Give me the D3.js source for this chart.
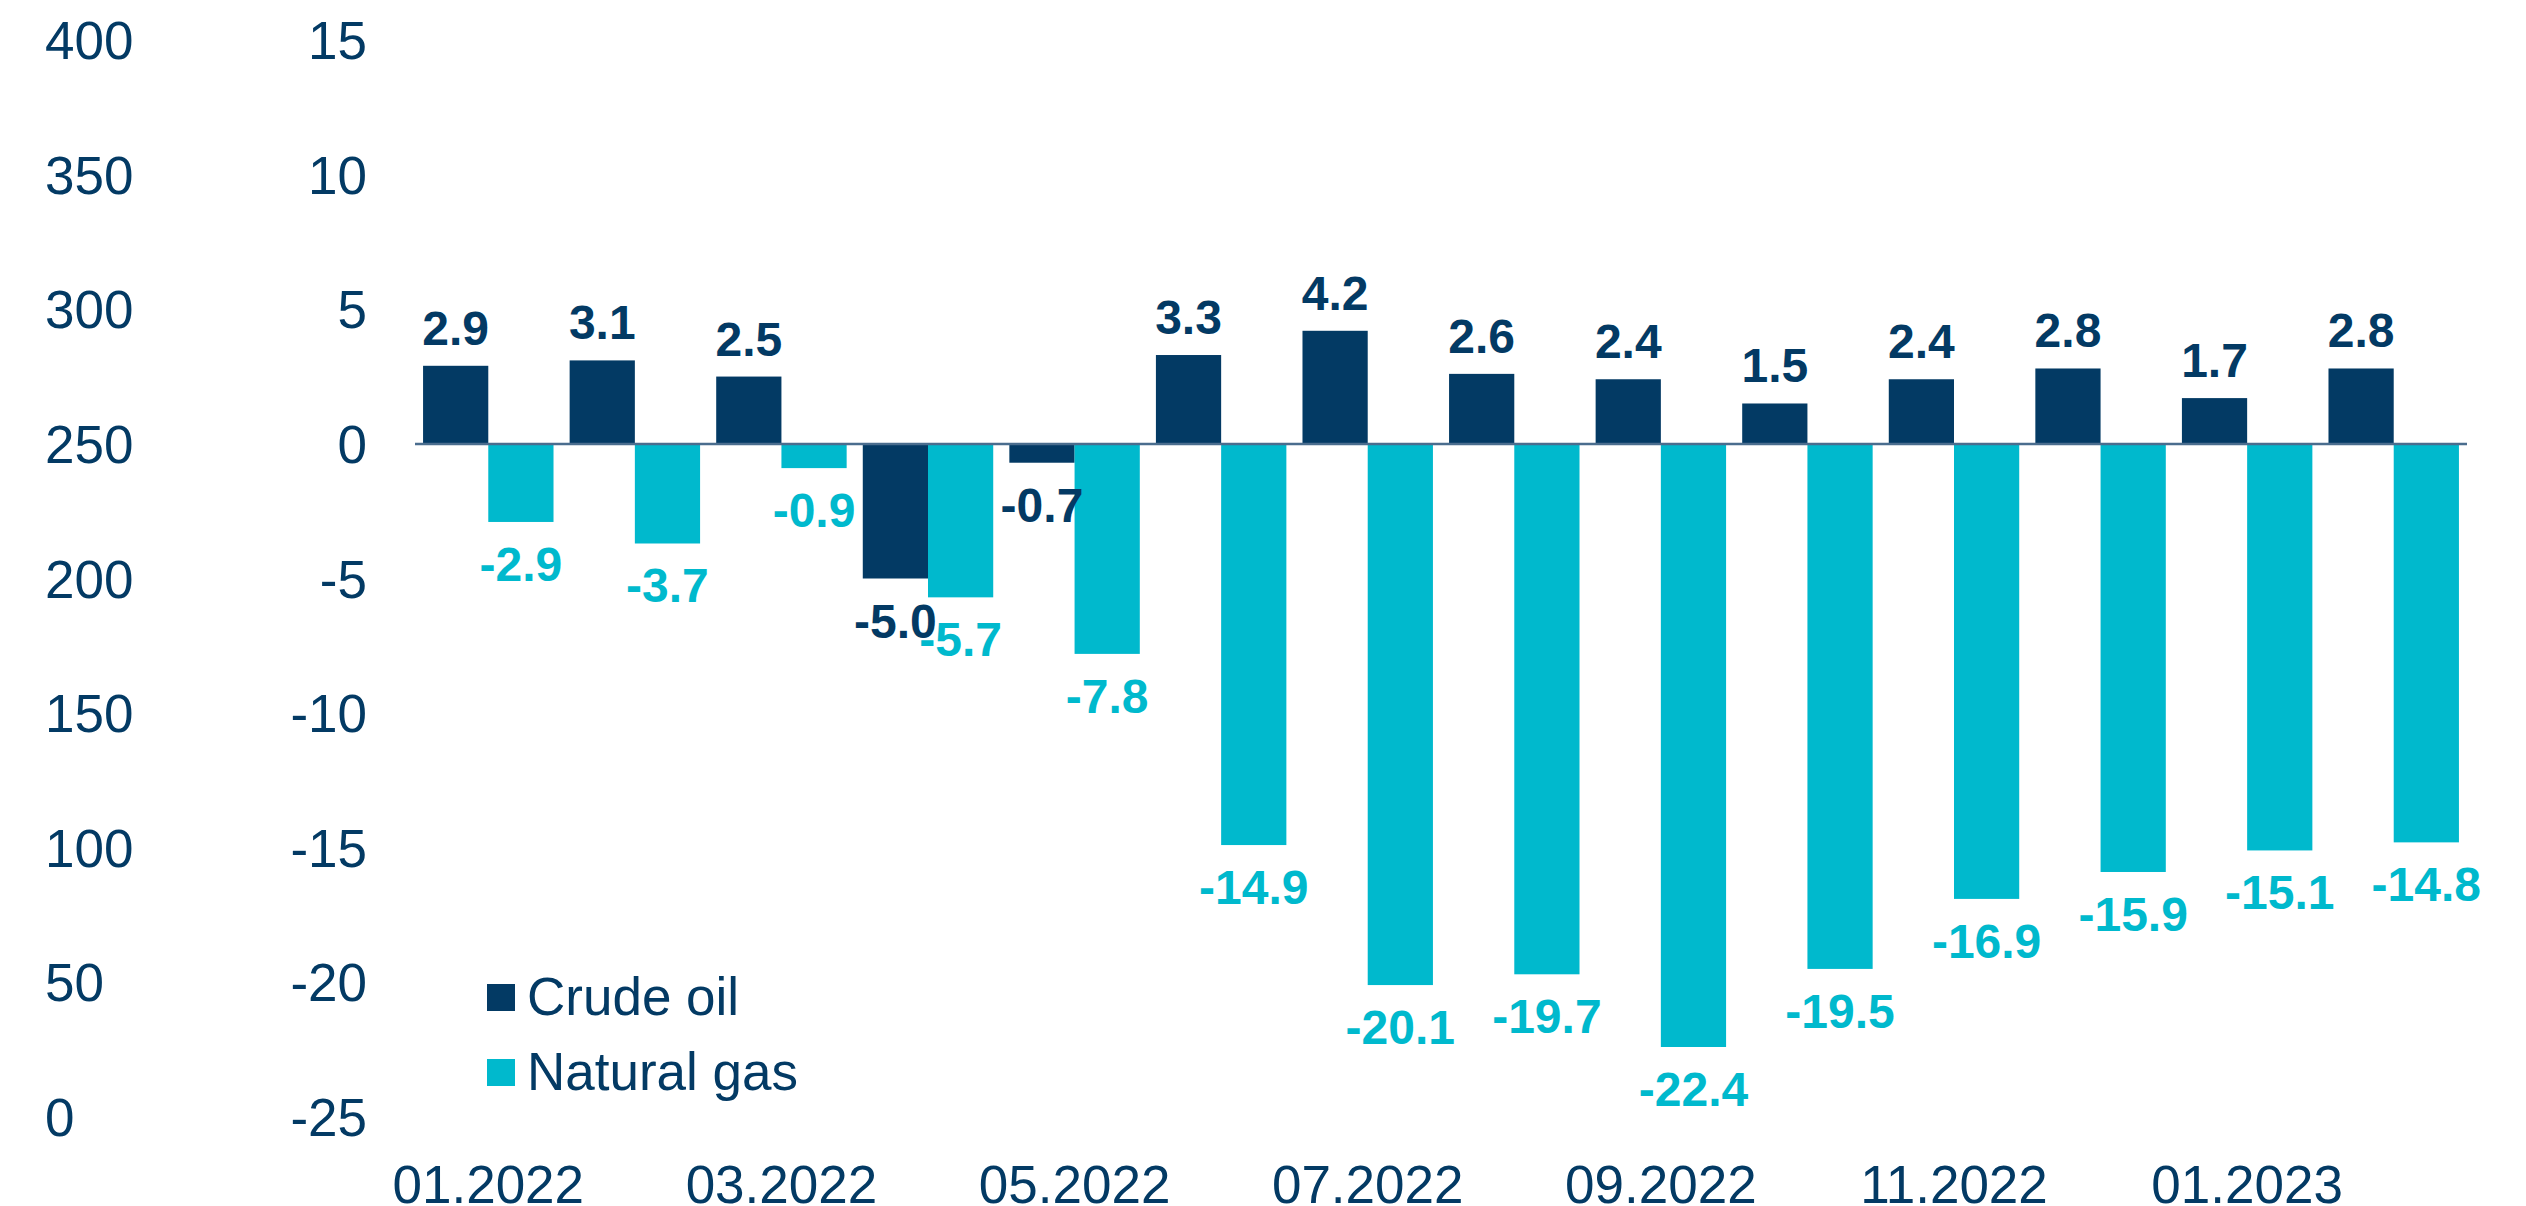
<!DOCTYPE html>
<html>
<head>
<meta charset="utf-8">
<script src="https://cdn.jsdelivr.net/npm/d3@7"></script>
<style>
  html, body { margin: 0; padding: 0; background: #ffffff; }
  svg { display: block; }
  text { font-family: "Liberation Sans", Arial, sans-serif; }
</style>
</head>
<body>
<svg id="chart" width="2526" height="1206"></svg>
<script>
// ---- data ----
const categories = ["01.2022","02.2022","03.2022","04.2022","05.2022","06.2022","07.2022",
                    "08.2022","09.2022","10.2022","11.2022","12.2022","01.2023","02.2023"];
const crudeOil   = [2.9, 3.1, 2.5, -5.0, -0.7, 3.3, 4.2, 2.6, 2.4, 1.5, 2.4, 2.8, 1.7, 2.8];
const naturalGas = [-2.9, -3.7, -0.9, -5.7, -7.8, -14.9, -20.1, -19.7, -22.4, -19.5, -16.9, -15.9, -15.1, -14.8];
const seriesNames = ["Crude oil", "Natural gas"];
const rightTicks = [15, 10, 5, 0, -5, -10, -15, -20, -25];
const leftTicks  = [400, 350, 300, 250, 200, 150, 100, 50, 0];
const xTickLabels = ["01.2022","03.2022","05.2022","07.2022","09.2022","11.2022","01.2023"];

// ---- styles ----
const colors = { "Crude oil": "#033a64", "Natural gas": "#00b9cd" };
const textColor = "#033a64";

const svg = d3.select("#chart");

const yTop = 40, yBottom = 1117;
const y = d3.scaleLinear().domain([-25, 15]).range([yBottom, yTop]);
const yLeft = d3.scaleLinear().domain([0, 400]).range([yBottom, yTop]);

const x0 = d3.scaleBand().domain(categories).range([415, 2467])
  .paddingInner(0.11).paddingOuter(0.055);
const x1 = d3.scaleBand().domain(seriesNames).range([0, x0.bandwidth()]);

const plainFmt = d => String(d);

// left axis (0-400)
const leftAxis = d3.axisLeft(yLeft).tickValues(leftTicks).tickSize(0).tickFormat(plainFmt);
const gL = svg.append("g").attr("transform", "translate(45,0)").call(leftAxis);
gL.select(".domain").remove();
gL.selectAll("text").attr("text-anchor", "start").attr("x", 0).attr("dy", "0.35em")
  .style("font-size", "53px").style("fill", textColor);

// value axis (-25..15), drawn at left
const rAxis = d3.axisLeft(y).tickValues(rightTicks).tickSize(0).tickFormat(plainFmt);
const gR = svg.append("g").attr("transform", "translate(367,0)").call(rAxis);
gR.select(".domain").remove();
gR.selectAll("text").attr("x", 0).attr("dy", "0.35em")
  .style("font-size", "53px").style("fill", textColor);

// bars
const rows = categories.map((c, i) => ({ cat: c, vals: [
  { name: "Crude oil", v: crudeOil[i] },
  { name: "Natural gas", v: naturalGas[i] }
]}));

const groups = svg.append("g").selectAll("g").data(rows).join("g")
  .attr("transform", d => `translate(${x0(d.cat)},0)`);

groups.selectAll("rect").data(d => d.vals).join("rect")
  .attr("x", d => x1(d.name))
  .attr("width", x1.bandwidth())
  .attr("y", d => y(Math.max(0, d.v)))
  .attr("height", d => Math.abs(y(d.v) - y(0)))
  .attr("fill", d => colors[d.name]);

// zero line
svg.append("line")
  .attr("x1", 415).attr("x2", 2467)
  .attr("y1", y(0)).attr("y2", y(0))
  .attr("stroke", "#4a6d8e").attr("stroke-width", 2.5);

// value labels
groups.selectAll("text.val").data(d => d.vals).join("text")
  .attr("class", "val")
  .attr("x", d => x1(d.name) + x1.bandwidth() / 2)
  .attr("y", d => d.v >= 0 ? y(d.v) - 21 : y(d.v) + 59)
  .attr("text-anchor", "middle")
  .style("font-size", "48px").style("font-weight", "bold")
  .style("fill", d => colors[d.name])
  .text(d => d.v.toFixed(1));

// x axis labels
const xAxis = d3.axisBottom(x0).tickValues(xTickLabels).tickSize(0);
const gX = svg.append("g").attr("transform", "translate(0,1203)").call(xAxis);
gX.select(".domain").remove();
gX.selectAll("text").attr("y", 0).attr("dy", 0)
  .style("font-size", "53px").style("fill", textColor);

// legend
const legend = svg.append("g").selectAll("g").data(seriesNames).join("g")
  .attr("transform", (d, i) => `translate(487,${984 + i * 75})`);
legend.append("rect").attr("width", 28).attr("height", 27).attr("fill", d => colors[d]);
legend.append("text").attr("x", 40).attr("y", 31)
  .style("font-size", "53px").style("fill", textColor).text(d => d);
</script>
</body>
</html>
